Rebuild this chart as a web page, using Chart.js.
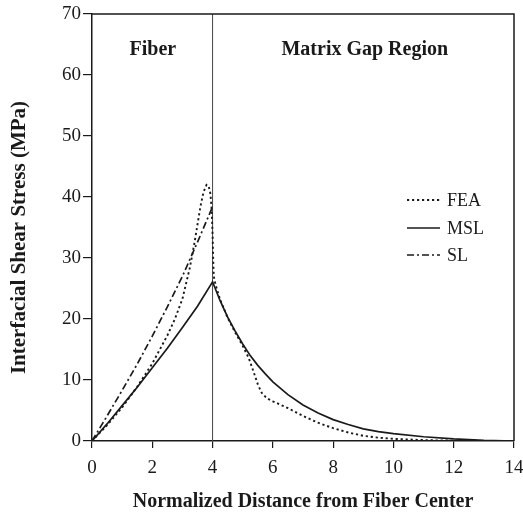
<!DOCTYPE html>
<html><head><meta charset="utf-8">
<script src="https://cdn.jsdelivr.net/npm/chart.js@4/dist/chart.umd.min.js"></script>
<style>html,body{margin:0;padding:0;background:#fff}#wrap{width:523px;height:520px}</style>
</head><body><div id="wrap"><canvas id="c" width="523" height="520"></canvas></div>
<script>
const feaX = [0, 0.5, 1, 1.5, 2, 2.5, 2.75, 3, 3.25, 3.4, 3.5, 3.6, 3.7, 3.8, 3.87, 3.93, 3.97, 4.0, 4.02, 4.04, 4.1, 4.25, 4.5, 4.75, 5, 5.2, 5.35, 5.5, 5.63, 5.8, 6, 6.5, 7, 7.5, 8, 8.5, 9, 9.5, 10, 11, 12, 13, 14];
const feaY = [0, 2.6, 5.5, 8.9, 12.7, 17.3, 20, 23.3, 28.5, 32.5, 35.5, 38.5, 40.8, 42, 41.8, 40.5, 38, 34, 30, 27, 25.6, 23.2, 20.2, 17.8, 15.6, 13.6, 11.5, 9.3, 7.9, 7.0, 6.5, 5.4, 4.1, 3.0, 2.1, 1.4, 0.85, 0.55, 0.35, 0.15, 0.05, 0.02, 0];
const mslX = [0, 0.5, 1, 1.5, 2, 2.5, 3, 3.5, 4, 4.25, 4.5, 4.75, 5, 5.25, 5.5, 5.75, 6, 6.5, 7, 7.5, 8, 8.5, 9, 9.5, 10, 11, 12, 13, 14];
const mslY = [0, 2.8, 5.8, 8.8, 12, 15.2, 18.6, 22.1, 26.1, 23, 20.3, 18, 15.9, 14, 12.4, 11, 9.7, 7.6, 5.9, 4.6, 3.5, 2.7, 2.0, 1.55, 1.2, 0.7, 0.35, 0.12, 0];
const slX = [0, 0.5, 1, 1.5, 2, 2.5, 3, 3.5, 4];
const slY = [0, 4.1, 8.3, 12.6, 17.2, 22, 27, 32.6, 38.4];
const xTicks = [0, 2, 4, 6, 8, 10, 12, 14];
const yTicks = [0, 10, 20, 30, 40, 50, 60, 70];
const seriesNames = ['FEA', 'MSL', 'SL'];
const regionLabels = ['Fiber', 'Matrix Gap Region'];
const yTitle = 'Interfacial Shear Stress (MPa)';
const xTitle = 'Normalized Distance from Fiber Center';
const fiberEnd = 4;

const pts = (xs, ys) => xs.map((x, i) => ({x, y: ys[i]}));
const ink = '#1a1a1a';
const serif = '"Liberation Serif", "DejaVu Serif", serif';

const styles = [
  {borderDash: [2.2, 2.8], borderWidth: 1.9},
  {borderDash: [], borderWidth: 1.7},
  {borderDash: [7, 3, 2, 3], borderWidth: 1.7}
];

const datasets = [
  {label: seriesNames[0], data: pts(feaX, feaY)},
  {label: seriesNames[1], data: pts(mslX, mslY)},
  {label: seriesNames[2], data: pts(slX, slY)}
].map((d, i) => Object.assign(d, styles[i], {borderColor: ink, pointRadius: 0, fill: false, tension: 0}));

datasets.push({label: 'divider', data: [{x: fiberEnd, y: 0}, {x: fiberEnd, y: 70}], borderColor: '#444', borderWidth: 1, pointRadius: 0, fill: false});

const decor = {
  id: 'decor',
  afterDraw(chart) {
    const {ctx, chartArea: a, scales: {x, y}} = chart;
    ctx.save();
    ctx.strokeStyle = ink; ctx.lineWidth = 1.5;
    ctx.beginPath();
    ctx.moveTo(a.left, a.top); ctx.lineTo(a.right, a.top); ctx.lineTo(a.right, a.bottom);
    ctx.stroke();
    ctx.fillStyle = ink;
    ctx.font = 'bold 20px ' + serif;
    ctx.textAlign = 'center'; ctx.textBaseline = 'alphabetic';
    ctx.fillText(regionLabels[0], x.getPixelForValue(2.02), y.getPixelForValue(63.3));
    ctx.fillText(regionLabels[1], x.getPixelForValue(9.05), y.getPixelForValue(63.3));
    // y-axis title (slightly below axis centre, as in the reference)
    ctx.save();
    ctx.font = 'bold 21px ' + serif;
    ctx.textBaseline = 'middle';
    ctx.translate(20, (a.top + a.bottom) / 2 + 10);
    ctx.rotate(-Math.PI / 2);
    ctx.fillText(yTitle, 0, 0);
    ctx.restore();
    // legend
    const lx0 = 407, lx1 = 440, ly = [200, 228, 255];
    ctx.font = '18px ' + serif; ctx.textAlign = 'left'; ctx.textBaseline = 'middle';
    for (let i = 0; i < 3; i++) {
      const ds = chart.data.datasets[i];
      ctx.setLineDash(ds.borderDash); ctx.lineWidth = ds.borderWidth;
      ctx.beginPath(); ctx.moveTo(lx0, ly[i]); ctx.lineTo(lx1, ly[i]); ctx.stroke();
      ctx.setLineDash([]);
      ctx.fillText(ds.label, 447, ly[i] + 1);
    }
    ctx.restore();
  }
};

new Chart(document.getElementById('c'), {
  type: 'line',
  data: {datasets},
  plugins: [decor],
  options: {
    responsive: false, animation: false,
    layout: {padding: {left: 0, top: 14, right: 9, bottom: 0}},
    plugins: {legend: {display: false}, tooltip: {enabled: false}},
    scales: {
      x: {
        type: 'linear', min: 0, max: 14,
        afterBuildTicks: s => { s.ticks = xTicks.map(v => ({value: v})); },
        afterFit: s => { s.height = 79; s.paddingLeft = 0; s.paddingRight = 0; },
        border: {color: ink, width: 1.5},
        grid: {drawOnChartArea: false, color: ink, tickLength: 7, lineWidth: 1.2},
        ticks: {color: ink, font: {family: serif, size: 19}, padding: 9, maxRotation: 0},
        title: {display: true, text: xTitle, color: ink, font: {family: serif, size: 20, weight: 'bold'}, padding: {top: 10, bottom: 6}}
      },
      y: {
        min: 0, max: 70,
        afterBuildTicks: s => { s.ticks = yTicks.map(v => ({value: v})); },
        afterFit: s => { s.width = 92; s.paddingTop = 0; s.paddingBottom = 0; },
        border: {color: ink, width: 1.5},
        grid: {drawOnChartArea: false, color: ink, tickLength: 9, lineWidth: 1.2},
        ticks: {color: ink, font: {family: serif, size: 19}, padding: 2},
        title: {display: false}
      }
    }
  }
});
</script></body></html>
